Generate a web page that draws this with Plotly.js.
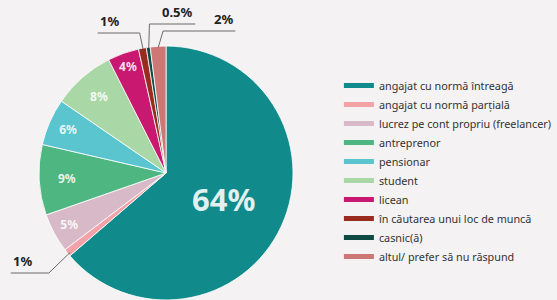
<!DOCTYPE html>
<html><head><meta charset="utf-8">
<script src="https://cdn.plot.ly/plotly-3.0.1.min.js"></script>
<style>html,body{margin:0;padding:0;overflow:hidden;background:#f4f2f3}</style>
</head><body><div id="chart"></div>
<script>
const categories = ["angajat cu normă întreagă","angajat cu normă parțială","lucrez pe cont propriu (freelancer)","antreprenor","pensionar","student","licean","în căutarea unui loc de muncă","casnic(ă)","altul/ prefer să nu răspund"];
const values = [64, 1, 5, 9, 6, 8, 4, 1, 0.5, 2];
const colors = ["#108a8a","#f3a3a8","#d8b9c7","#4db681","#5bc5cf","#a9d7a6","#c8186f","#9a2b1f","#0f4a45","#cd7877"];
const insideShown = [true,false,true,true,true,true,true,false,false,false];
const textSizes = [31,12,12,12,12,12,12,12,12,12];

const W = 557, H = 304;
const cx = 170, cy = 173, R = 130;
// label placements (layout, in px): [index, elbowX, elbowY, underlineOtherEndX, textAnchor]
const outside = [
  [7, 143, 33, 100, "left"],
  [8, 153, 24, 200, "right"],
  [9, 167, 31, 241, "right"],
  [1, 50, 273, 11, "left"]
];

const px = x => x / W, py = y => 1 - y / H;
const total = values.reduce((a,b)=>a+b,0);
const shapes = [], annotations = [];
outside.forEach(([i, ex, ey, ux, anchor]) => {
  let cum = 0; for (let k=0;k<i;k++) cum += values[k];
  const ang = (cum + values[i]/2) / total * 2 * Math.PI;
  const sx = cx + R*0.97*Math.sin(ang), sy = cy - R*0.97*Math.cos(ang);
  shapes.push({type:'line', xref:'paper', yref:'paper', x0:px(sx), y0:py(sy), x1:px(ex), y1:py(ey), line:{color:'#6b6b6b', width:1}});
  shapes.push({type:'line', xref:'paper', yref:'paper', x0:px(ex), y0:py(ey), x1:px(ux), y1:py(ey), line:{color:'#6b6b6b', width:1}});
  const left = Math.min(ex, ux), right = Math.max(ex, ux);
  annotations.push({xref:'paper', yref:'paper', x: px(anchor==='left'?left:right), y: py(ey-1), xanchor: anchor, yanchor:'bottom',
    text:'<b>'+values[i]+'%</b>', showarrow:false, font:{family:'Noto Sans', size:13, color:'#222'}});
});

const traces = [{
  type:'pie', labels:categories, values:values, sort:false, direction:'clockwise', rotation:0,
  marker:{colors:colors, line:{color:'#ffffff', width:0.8}},
  texttemplate:'<b>%{value}%</b>', textposition: insideShown.map(s => s ? 'inside' : 'none'),
  insidetextorientation:'horizontal',
  textfont:{family:'Noto Sans', size:textSizes, color:'rgba(255,255,255,0.88)'},
  hoverinfo:'label+percent', showlegend:false,
  domain:{x:[(cx-R)/W,(cx+R)/W], y:[(H-cy-R)/H,(H-cy+R)/H]}
}];
categories.forEach((c,i) => traces.push({type:'scatter', mode:'lines', x:[null], y:[null], name:c,
  line:{color:colors[i], width:5}, showlegend:true, hoverinfo:'skip'}));

const layout = {
  width:W, height:H, margin:{l:0,r:0,t:0,b:0},
  paper_bgcolor:'#f4f2f3', plot_bgcolor:'rgba(0,0,0,0)',
  xaxis:{visible:false, domain:[0.99,1]}, yaxis:{visible:false, domain:[0.99,1]},
  showlegend:true,
  legend:{x:347/W, y:py(71), xanchor:'left', yanchor:'top', bgcolor:'rgba(0,0,0,0)',
    font:{family:'Noto Sans', size:10.8, color:'#333'}, itemwidth:30, tracegroupgap:0},
  shapes:shapes, annotations:annotations
};
Plotly.newPlot('chart', traces, layout, {displayModeBar:false, staticPlot:true});
</script></body></html>
